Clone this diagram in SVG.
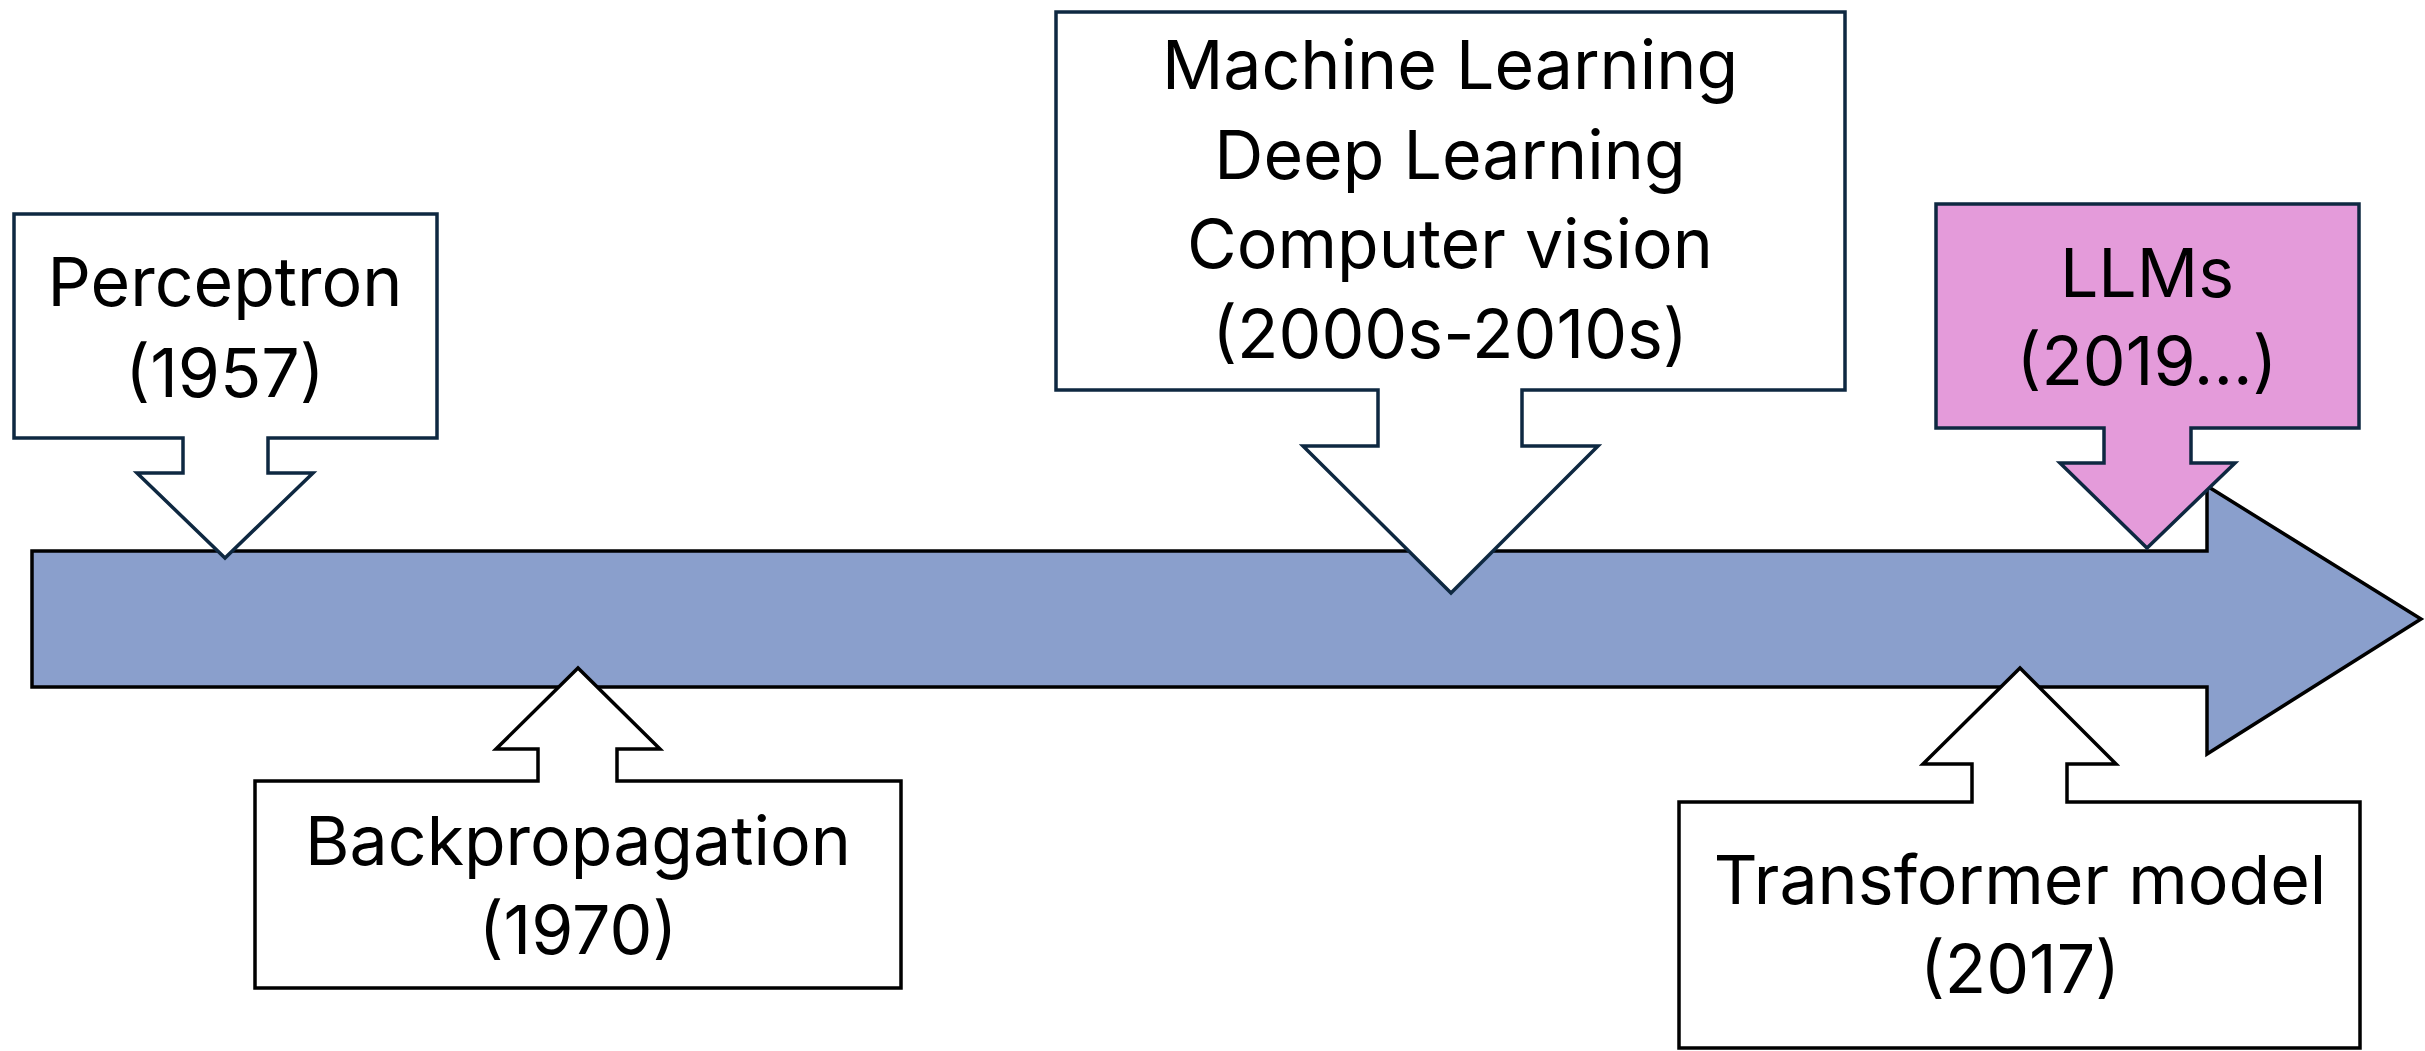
<svg xmlns="http://www.w3.org/2000/svg" width="2425" height="1051" viewBox="0 0 2425 1051">
<style>
  .bar { fill: #8A9FCC; stroke: #000000; stroke-width: 3.5; stroke-linejoin: miter; }
  .callout { fill: #FFFFFF; stroke: #0E2841; stroke-width: 3.5; stroke-linejoin: miter; }
  .callout-b { fill: #FFFFFF; stroke: #000000; stroke-width: 3.5; stroke-linejoin: miter; }
  .callout-pink { fill: #E49BDA; stroke: #0E2841; stroke-width: 3.5; stroke-linejoin: miter; }
  .lbl { font-family: Inter, "Liberation Sans", sans-serif; font-size: 68px; fill: #000000; text-anchor: middle; }
</style>
<rect width="2425" height="1051" fill="#FFFFFF"/>
<g id="timeline">
  <path class="bar" d="M32,551 H2207 V486 L2421,619 L2207,754 V687 H32 Z"/>
</g>
<g id="connectors"></g>
<g id="perceptron">
  <path class="callout" d="M14,214 H437 V438 H268 V473 H313 L225,558 L137,473 H183 V438 H14 Z"/>
  <text class="lbl" x="225" y="306">Perceptron</text>
  <text class="lbl" x="225" y="397">(1957)</text>
</g>
<g id="ml">
  <path class="callout" d="M1056,12 H1845 V390 H1522 V446 H1598 L1451,593 L1303,446 H1378 V390 H1056 Z"/>
  <text class="lbl" x="1450" y="89">Machine Learning</text>
  <text class="lbl" x="1450" y="179">Deep Learning</text>
  <text class="lbl" x="1450" y="268">Computer vision</text>
  <text class="lbl" x="1450" y="358">(2000s-2010s)</text>
</g>
<g id="llms">
  <path class="callout-pink" d="M1936,204 H2359 V428 H2191 V463 H2235 L2147,548 L2060,463 H2104 V428 H1936 Z"/>
  <text class="lbl" x="2147" y="297">LLMs</text>
  <text class="lbl" x="2147" y="385">(2019...)</text>
</g>
<g id="backprop">
  <path class="callout-b" d="M255,988 H901 V781 H617 V749 H660 L578,668 L496,749 H538 V781 H255 Z"/>
  <text class="lbl" x="578" y="865">Backpropagation</text>
  <text class="lbl" x="578" y="954">(1970)</text>
</g>
<g id="transformer">
  <path class="callout-b" d="M1679,1048 H2360 V802 H2067 V764 H2116 L2020,668 L1923,764 H1972 V802 H1679 Z"/>
  <text class="lbl" x="2020" y="904">Transformer model</text>
  <text class="lbl" x="2020" y="993">(2017)</text>
</g>
</svg>
